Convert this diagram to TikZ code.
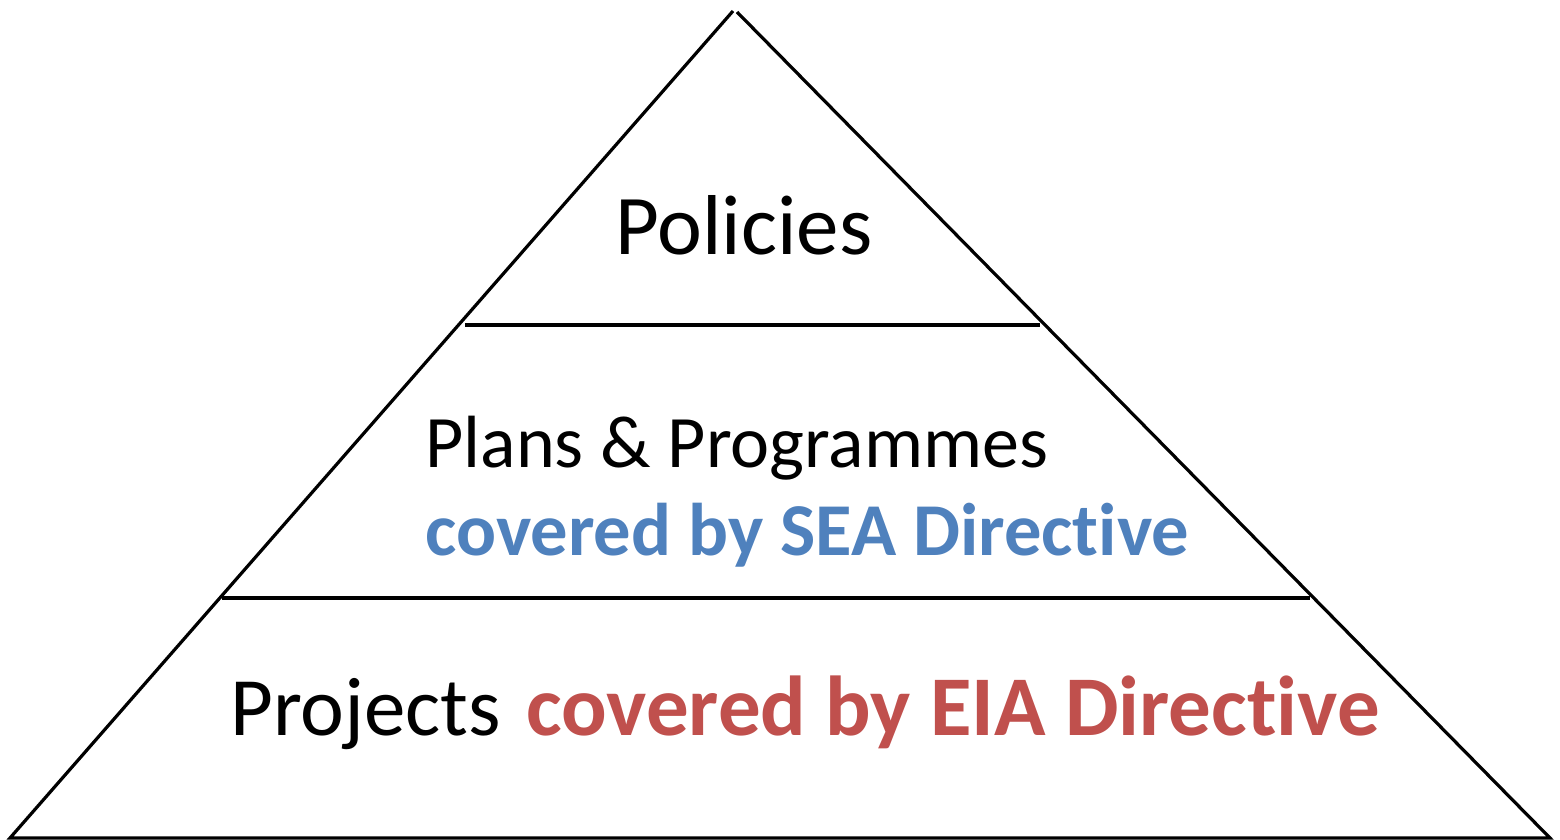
\documentclass[tikz,border=0pt]{standalone}
\usepackage{fontspec}
\setmainfont{Carlito}[Ligatures=NoCommon]
\usepackage{xcolor}
\definecolor{seablue}{HTML}{4F81BD}
\definecolor{eiared}{HTML}{C0504D}

\begin{document}
\begin{tikzpicture}[x=0.5pt, y=-0.5pt, edge/.style={line width=1.6pt, black}]
  \useasboundingbox (0,0) rectangle (1560,840);
  \coordinate (apex) at (735,10);
  \coordinate (bl) at (10,838);
  \coordinate (br) at (1550,838);
  \draw[edge] (733,11) -- (bl) -- (br) -- (737,12);
  \draw[edge] (465,325) -- (1040,325);
  \draw[edge] (222,598) -- (1310,598);
  \node (pol) [anchor=base, inner sep=0pt, font=\fontsize{42.5}{42.5}\selectfont] at (744,255) {Policies};
  \node (plans) [anchor=base west, inner sep=0pt, font=\fontsize{37}{37}\selectfont] at (425,467) {Plans \& Programmes};
  \node (sea) [anchor=base west, inner sep=0pt, text=seablue, font=\fontsize{37.3}{37.3}\bfseries] at (425,555) {covered by SEA Directive};
  \node (proj) [anchor=base west, inner sep=0pt, font=\fontsize{41.5}{41.5}\selectfont] at (230,735) {Projects\hspace{0.3em}{\fontsize{42.5}{42.5}\selectfont\bfseries\color{eiared}covered by EIA Directive}};
\end{tikzpicture}
\end{document}
